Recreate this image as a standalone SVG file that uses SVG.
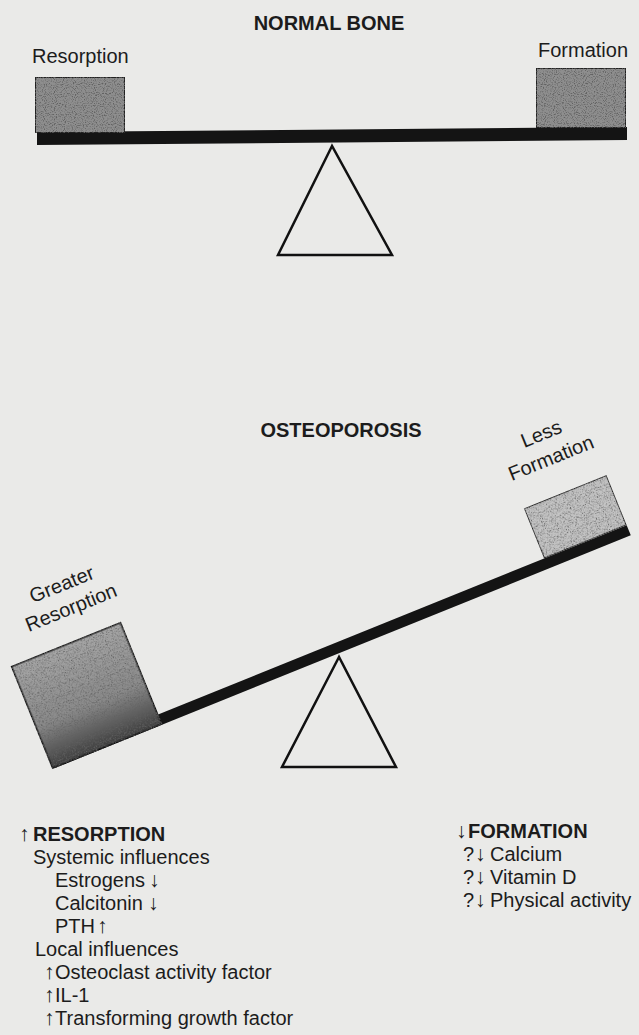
<svg xmlns="http://www.w3.org/2000/svg" width="639" height="1035" viewBox="0 0 639 1035">
<defs>
<filter id="grain" x="0" y="0" width="1" height="1">
<feTurbulence type="fractalNoise" baseFrequency="0.9" numOctaves="1" seed="7" result="n"/>
<feColorMatrix in="n" type="matrix" values="0 0 0 0 0.12  0 0 0 0 0.12  0 0 0 0 0.12  4 0 0 0 -1.9" result="dots"/>
<feComposite in="dots" in2="SourceGraphic" operator="in" result="d2"/>
<feMerge><feMergeNode in="SourceGraphic"/><feMergeNode in="d2"/></feMerge>
</filter>
<linearGradient id="darkbox" x1="0" y1="0" x2="0" y2="1">
<stop offset="0" stop-color="#a8a8a8"/>
<stop offset="0.6" stop-color="#8a8a8a"/>
<stop offset="1" stop-color="#3a3a3a"/>
</linearGradient>
</defs>
<style>
.lbl{font-family:"Liberation Sans",Arial,Helvetica,sans-serif;font-size:20px;fill:#1c1c1c}
.hdr{font-weight:bold}
.arr{font-weight:bold;font-size:21px}
.beam{fill:#141414}
.box{stroke:#222;stroke-width:2}
.fulcrum{fill:none;stroke:#111;stroke-width:2.5}
</style>
<rect width="639" height="1035" fill="#eaeae8"/>

<g id="normal-title"><text class="lbl hdr" x="329" y="30" text-anchor="middle">NORMAL BONE</text></g>
<g id="normal-beam"><polygon class="beam" points="37,132 627,127 627,140 37,145"/></g>
<g id="normal-resorption">
<text class="lbl" x="32" y="63">Resorption</text>
<rect class="box" x="35" y="77" width="90" height="56" fill="#8e8e8e" filter="url(#grain)"/>
</g>
<g id="normal-formation">
<text class="lbl" x="538" y="57">Formation</text>
<rect class="box" x="536" y="68" width="90" height="60" fill="#8e8e8e" filter="url(#grain)"/>
</g>
<g id="normal-fulcrum"><polygon class="fulcrum" points="332,146 278,255 392,255"/></g>

<g id="osteo-title"><text class="lbl hdr" x="341" y="437" text-anchor="middle">OSTEOPOROSIS</text></g>
<g id="osteo-seesaw" transform="translate(55,768) rotate(-22)">
<g id="osteo-beam"><rect class="beam" x="0" y="-11" width="621" height="11"/></g>
<g id="osteo-resorption">
<text class="lbl" x="75" y="-161" text-anchor="middle">Greater</text>
<text class="lbl" x="75" y="-136" text-anchor="middle">Resorption</text>
<rect x="-3" y="-111" width="119" height="111" fill="url(#darkbox)" stroke="#111" stroke-width="3" filter="url(#grain)"/>
</g>
<g id="osteo-formation">
<text class="lbl" x="576" y="-121" text-anchor="middle">Less</text>
<text class="lbl" x="576" y="-95" text-anchor="middle">Formation</text>
<rect class="box" x="532" y="-65" width="89" height="54" fill="#c4c4c4" filter="url(#grain)"/>
</g>
</g>
<g id="osteo-fulcrum"><polygon class="fulcrum" points="339,657 282,767 396,767"/></g>

<g id="resorption-list" class="lbl">
<text y="841"><tspan class="arr" x="19">↑</tspan><tspan class="hdr" x="33">RESORPTION</tspan></text>
<text x="33" y="864">Systemic influences</text>
<text y="887"><tspan x="55">Estrogens</tspan><tspan class="arr" x="149">↓</tspan></text>
<text y="910"><tspan x="55">Calcitonin</tspan><tspan class="arr" x="148">↓</tspan></text>
<text y="933"><tspan x="55">PTH</tspan><tspan class="arr" x="97">↑</tspan></text>
<text x="35" y="956">Local influences</text>
<text y="979"><tspan class="arr" x="44">↑</tspan><tspan x="55">Osteoclast activity factor</tspan></text>
<text y="1002"><tspan class="arr" x="44">↑</tspan><tspan x="55">IL-1</tspan></text>
<text y="1025"><tspan class="arr" x="44">↑</tspan><tspan x="55">Transforming growth factor</tspan></text>
</g>

<g id="formation-list" class="lbl">
<text y="838"><tspan class="arr" x="456">↓</tspan><tspan class="hdr" x="468">FORMATION</tspan></text>
<text y="861"><tspan x="463">?</tspan><tspan class="arr" x="475">↓</tspan><tspan x="490">Calcium</tspan></text>
<text y="884"><tspan x="463">?</tspan><tspan class="arr" x="475">↓</tspan><tspan x="490">Vitamin D</tspan></text>
<text y="907"><tspan x="463">?</tspan><tspan class="arr" x="475">↓</tspan><tspan x="490">Physical activity</tspan></text>
</g>
</svg>
